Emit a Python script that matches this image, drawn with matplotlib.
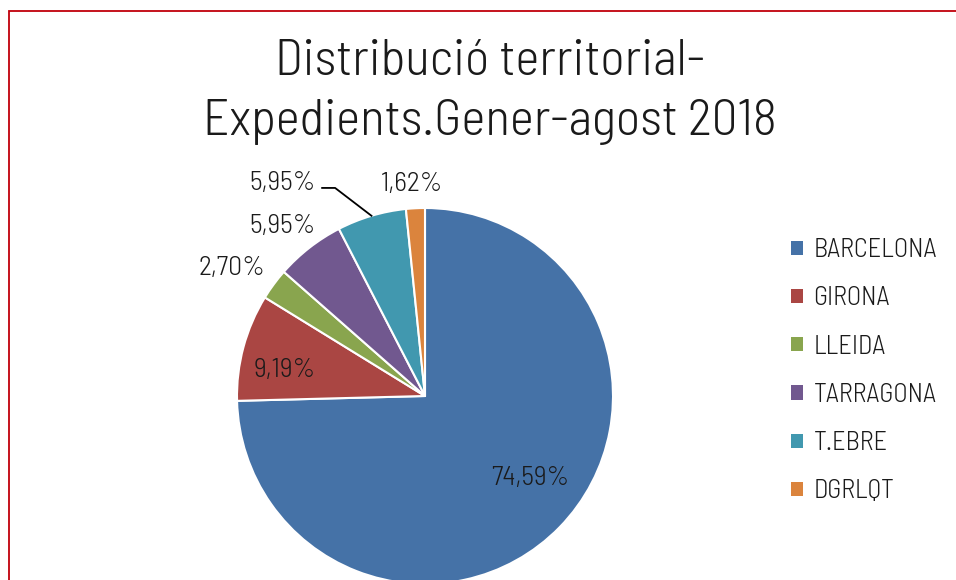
import matplotlib
matplotlib.use("Agg")
import matplotlib.pyplot as plt
from matplotlib.patches import Rectangle
import numpy as np

categories = ["BARCELONA", "GIRONA", "LLEIDA", "TARRAGONA", "T.EBRE", "DGRLQT"]
values = [74.59, 9.19, 2.70, 5.95, 5.95, 1.62]
labels = ["74,59%", "9,19%", "2,70%", "5,95%", "5,95%", "1,62%"]
colors = ["#4572A7", "#AA4643", "#89A54E", "#71588F", "#4198AF", "#DB843D"]
title = "Distribució territorial-\nExpedients.Gener-agost 2018"

FONT = dict(family=["Barlow Semi Condensed", "DejaVu Sans"], weight=300)
TXT = "#1a1a1a"

W, H = 956, 580
fig = plt.figure(figsize=(W / 100, H / 100), dpi=100)

# frame (red border)
fig.patches.append(Rectangle((9 / W, -0.01), 1.1, (H - 11) / H + 0.01, transform=fig.transFigure,
                             fill=False, edgecolor="#C0000B", linewidth=1.3))

cx, cy, r = 425, 396, 188
ax = fig.add_axes([(cx - r) / W, (H - cy - r) / H, 2 * r / W, 2 * r / H])
wedges, _ = ax.pie(values, colors=colors, startangle=90, counterclock=False,
                   wedgeprops=dict(edgecolor="white", linewidth=1.5), radius=1.0)
ax.set_xlim(-1, 1)
ax.set_ylim(-1, 1)
ax.set_aspect("equal")
ax.axis("off")
for w in wedges:
    w.set_clip_on(False)

# label placement (radius factor, angle offset in degrees)
place = [(0.709, 6.3), (0.757, 4.6), (1.232, 2.9), (1.182, 2.1), (1.365, 17.3), (1.13, 0.6)]
pos = []
for w, (rf, da) in zip(wedges, place):
    mid = np.deg2rad((w.theta1 + w.theta2) / 2 + da)
    pos.append((rf * np.cos(mid), rf * np.sin(mid)))
for (x, y), lab in zip(pos, labels):
    ax.text(x, y, lab, ha="center", va="center", fontsize=20, color=TXT,
            clip_on=False, **FONT)

# leader line for T.EBRE label
w = wedges[4]
mid = np.deg2rad((w.theta1 + w.theta2) / 2)
ex, ey = np.cos(mid), np.sin(mid)
lx, ly = pos[4]
ax.plot([lx + 0.213, lx + 0.282, ex], [ly - 0.027, ly - 0.027, ey], color="black",
        linewidth=1.3, clip_on=False)

for i, line in enumerate(title.split("\n")):
    fig.text(490 / W, 1 - (62 + 60 * i) / H, line, ha="center", va="center", fontsize=37,
             color=TXT, **FONT)

# legend
handles = [Rectangle((0, 0), 1, 1, facecolor=c, edgecolor="none") for c in colors]
leg = fig.legend(handles, categories, loc="upper left", bbox_to_anchor=(791 / W, 1 - 238 / H),
                 frameon=False, prop=dict(size=19, **FONT), handlelength=0.45,
                 handleheight=0.45, handletextpad=0.4, labelspacing=0.92,
                 borderaxespad=0, borderpad=0)
for t in leg.get_texts():
    t.set_color(TXT)

fig.savefig("out.png", dpi=100)
